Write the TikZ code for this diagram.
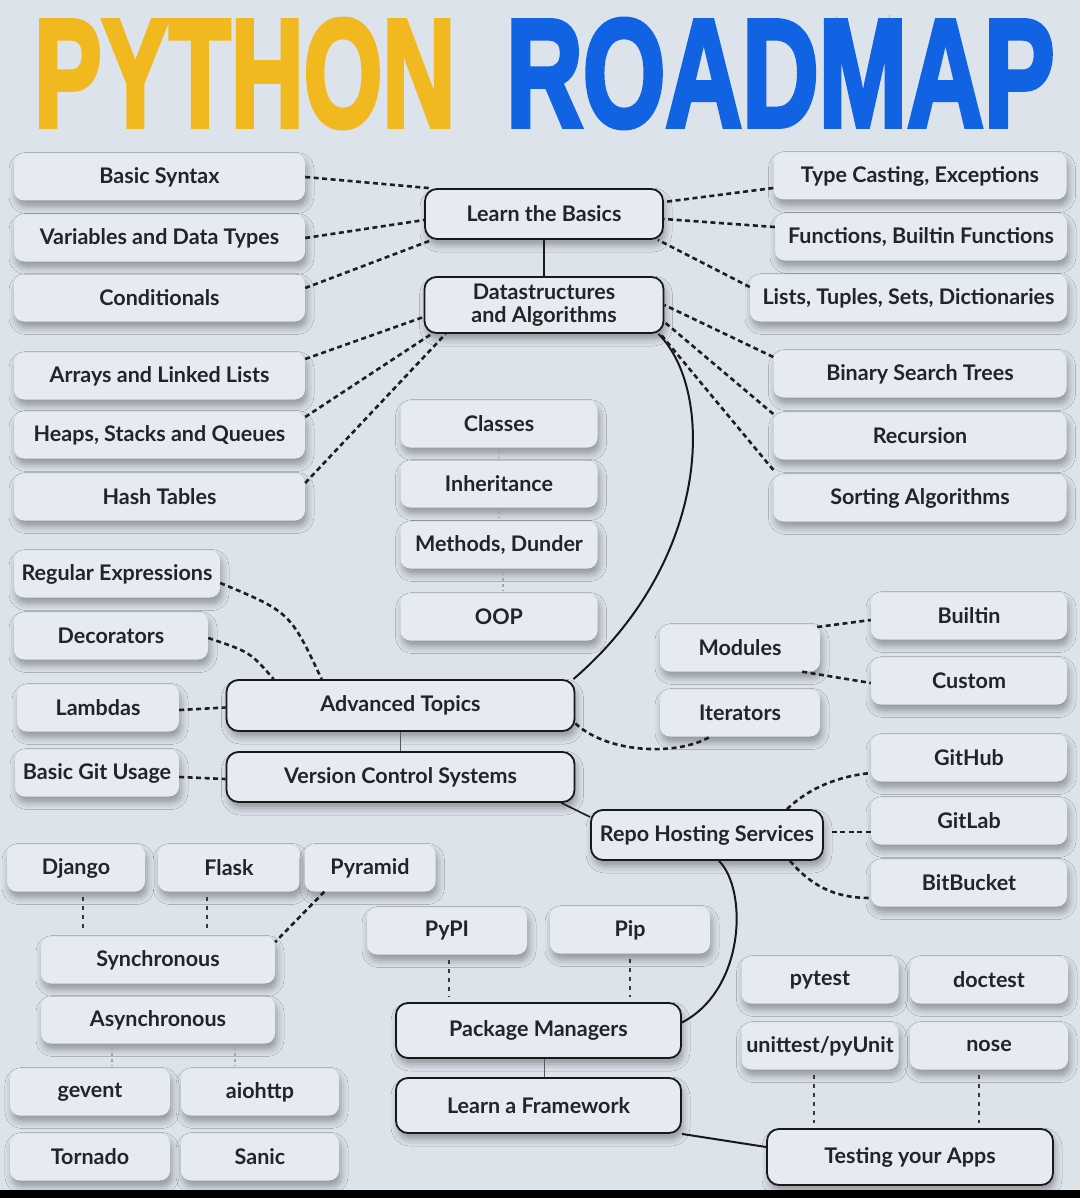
\documentclass[tikz,border=0pt]{standalone}
\usepackage{fontspec}
\setmainfont{Lato}
\newfontfamily\titlefont{Liberation Sans}[FakeBold=3.5]
\usetikzlibrary{shadows.blur}
\definecolor{bgc}{HTML}{DCE3EA}
\definecolor{boxc}{HTML}{E5EBF0}
\definecolor{txt}{HTML}{222528}
\definecolor{ylw}{HTML}{F1B81F}
\definecolor{blu}{HTML}{1263E4}
\newcommand{\nfont}{\fontsize{21.5}{22.5}\selectfont\bfseries}
\tikzset{
  soft/.style={rounded corners=10pt, fill=boxc, minimum height=47pt, inner sep=1pt,
    text=txt, font=\nfont,
    blur shadow={shadow xshift=2pt, shadow yshift=-6pt, shadow blur radius=7pt, shadow opacity=34}},
  mainbox/.style={rounded corners=12pt, draw=black!90, line width=1.8pt, fill=boxc,
    inner sep=1pt, text=txt, font=\nfont, align=center,
    blur shadow={shadow xshift=2pt, shadow yshift=-6pt, shadow blur radius=7pt, shadow opacity=34}},
  dsh/.style={draw=black!88, line width=2.6pt, dash pattern=on 5pt off 3.5pt},
  vdot/.style={draw=black!78, line width=2.4pt, dash pattern=on 4pt off 5pt, shorten <=5pt, shorten >=5pt},
  fdot/.style={draw=black!35, line width=1.6pt, dash pattern=on 3pt off 3pt, shorten <=3pt, shorten >=3pt},
  solidc/.style={draw=black!90, line width=2pt},
  thinc/.style={draw=black!65, line width=1.2pt},
}
\begin{document}
\begin{tikzpicture}[x=1pt,y=-1pt]
\useasboundingbox (0,0) rectangle (1080,1198);
\fill[bgc] (0,0) rectangle (1080,1198);

% title
\node[anchor=south west, inner sep=0] (t1) at (34,128) {\color{ylw}\resizebox{421pt}{107pt}{\titlefont\bfseries PYTHON}};
\node[anchor=south west, inner sep=0] (t2) at (506,128) {\color{blu}\resizebox{548pt}{107pt}{\titlefont\bfseries ROADMAP}};

% left column
\node[soft, minimum width=291pt] (bs) at (159.5,177) {Basic Syntax};
\node[soft, minimum width=291pt] (vdt) at (159.5,238) {Variables and Data Types};
\node[soft, minimum width=291pt] (cond) at (159.5,298) {Conditionals};
\node[soft, minimum width=291pt] (arr) at (159.5,376) {Arrays and Linked Lists};
\node[soft, minimum width=291pt] (heap) at (159.5,435) {Heaps, Stacks and Queues};
\node[soft, minimum width=291pt] (hash) at (159.5,497) {Hash Tables};

% right column
\node[soft, minimum width=293pt] (tc) at (920,176) {Type Casting, Exceptions};
\node[soft, minimum width=292pt] (fn) at (921,237) {Functions, Builtin Functions};
\node[soft, minimum width=317pt] (lts) at (908.5,298) {Lists, Tuples, Sets, Dictionaries};
\node[soft, minimum width=293pt] (bst) at (920,374) {Binary Search Trees};
\node[soft, minimum width=293pt] (rec) at (920,436) {Recursion};
\node[soft, minimum width=293pt] (sort) at (920,498) {Sorting Algorithms};

% main top
\node[mainbox, minimum width=238pt, minimum height=50pt] (ltb) at (544,214) {Learn the Basics};
\node[mainbox, minimum width=239pt, minimum height=56pt] (dsa) at (544,305) {Datastructures\\and Algorithms};

% middle OOP
\node[soft, minimum width=197pt] (cls) at (499,424) {Classes};
\node[soft, minimum width=197pt] (inh) at (499,484) {Inheritance};
\node[soft, minimum width=197pt] (meth) at (499,545) {Methods, Dunder};
\node[soft, minimum width=197pt] (oop) at (499,617) {OOP};

% left middle
\node[soft, minimum width=206pt] (regex) at (117,574) {Regular Expressions};
\node[soft, minimum width=194pt] (deco) at (111,636) {Decorators};
\node[soft, minimum width=162pt] (lamb) at (98,708) {Lambdas};
\node[soft, minimum width=164pt] (git) at (97,773) {Basic Git Usage};

\node[mainbox, minimum width=348pt, minimum height=51pt] (adv) at (400.5,705.5) {Advanced Topics};
\node[mainbox, minimum width=348pt, minimum height=50pt] (vcs) at (400.5,777) {Version Control Systems};

% right middle
\node[soft, minimum width=160pt] (mod) at (740,648) {Modules};
\node[soft, minimum width=160pt] (iter) at (740,713) {Iterators};
\node[soft, minimum width=196pt] (builtin) at (969,616) {Builtin};
\node[soft, minimum width=196pt] (custom) at (969,681) {Custom};
\node[soft, minimum width=196pt] (github) at (969,758) {GitHub};
\node[soft, minimum width=196pt] (gitlab) at (969,821) {GitLab};
\node[soft, minimum width=196pt] (bitbucket) at (969,883) {BitBucket};
\node[mainbox, minimum width=232pt, minimum height=50pt] (repo) at (707,835) {Repo Hosting Services};

% bottom left
\node[soft, minimum width=138pt] (django) at (76,868) {Django};
\node[soft, minimum width=142pt] (flask) at (229,868) {Flask};
\node[soft, minimum width=131pt] (pyramid) at (370,868) {Pyramid};
\node[soft, minimum width=234pt] (sync) at (158,960) {Synchronous};
\node[soft, minimum width=234pt] (async) at (158,1020) {Asynchronous};
\node[soft, minimum width=160pt] (gevent) at (90,1092) {gevent};
\node[soft, minimum width=158pt] (aiohttp) at (260,1092) {aiohttp};
\node[soft, minimum width=160pt] (tornado) at (90,1157) {Tornado};
\node[soft, minimum width=158pt] (sanic) at (260,1157) {Sanic};

% bottom middle
\node[soft, minimum width=160pt] (pypi) at (447,931) {PyPI};
\node[soft, minimum width=160pt] (pip) at (630,930) {Pip};
\node[mainbox, minimum width=285pt, minimum height=55pt] (pm) at (538.5,1030.5) {Package Managers};
\node[mainbox, minimum width=285pt, minimum height=55pt] (laf) at (538.5,1105.5) {Learn a Framework};

% bottom right
\node[soft, minimum width=157pt] (pytest) at (820,980) {pytest};
\node[soft, minimum width=158pt] (doctest) at (989,980) {doctest};
\node[soft, minimum width=157pt] (unittest) at (820,1046) {unittest/pyUnit};
\node[soft, minimum width=158pt] (nose) at (989,1046) {nose};
\node[mainbox, minimum width=286pt, minimum height=56pt] (testing) at (910,1157) {Testing your Apps};

% ---------- connectors ----------
% learn the basics
\draw[dsh] (bs.east) -- ([xshift=5pt]ltb.north west);
\draw[dsh] (vdt.east) -- ([yshift=-6pt]ltb.west);
\draw[dsh] ([yshift=10pt]cond.east) -- ([xshift=8pt]ltb.south west);
\draw[dsh] ([yshift=-12pt]tc.west) -- ([yshift=12pt]ltb.east);
\draw[dsh] ([yshift=10pt]fn.west) -- ([yshift=-5pt]ltb.east);
\draw[dsh] ([yshift=11pt]lts.west) -- ([xshift=-6pt]ltb.south east);
\draw[solidc, line width=1.6pt] (ltb.south) -- (dsa.north);
% data structures
\draw[dsh] ([yshift=17pt]arr.east) -- ([yshift=-12pt]dsa.west);
\draw[dsh] ([yshift=18pt]heap.east) -- ([xshift=8pt]dsa.south west);
\draw[dsh] ([yshift=14pt]hash.east) -- ([xshift=22pt]dsa.south west);
\draw[dsh] ([yshift=17pt]bst.west) -- (dsa.east);
\draw[dsh] ([yshift=22pt]rec.west) -- ([yshift=-17pt]dsa.east);
\draw[dsh] ([yshift=28pt]sort.west) -- ([xshift=-4pt]dsa.south east);
\draw[solidc] ([xshift=-6pt]dsa.south east) .. controls (715,390) and (712,560) .. ([xshift=-2pt]adv.north east);
% OOP chain
\draw[fdot] (cls.south) -- (inh.north);
\draw[fdot] (inh.south) -- (meth.north);
\draw[fdot] ([xshift=4pt]meth.south) -- ([xshift=4pt]oop.north);
% advanced
\draw[dsh] ([yshift=-9pt]regex.east) .. controls (290,612) .. ([xshift=96pt]adv.north west);
\draw[dsh] ([yshift=-2pt]deco.east) .. controls (250,652) .. ([xshift=48pt]adv.north west);
\draw[dsh] ([yshift=-2pt]lamb.east) -- ([yshift=-2pt]adv.west);
\draw[dsh] ([yshift=-4pt]git.east) -- ([yshift=-2pt]vcs.west);
\draw[thinc] (adv.south) -- (vcs.north);
\draw[dsh] ([yshift=-18pt]adv.east) .. controls (610,755) and (680,755) .. ([xshift=-30pt]iter.south);
\draw[dsh] ([xshift=-3pt,yshift=21pt]mod.east) -- ([yshift=-4pt]builtin.west);
\draw[dsh] ([xshift=-18pt]mod.south east) -- ([yshift=-2pt]custom.west);
% version control
\draw[solidc, line width=1.6pt] ([xshift=-14pt]vcs.south east) -- ([yshift=18pt]repo.west);
\draw[dsh] ([xshift=80pt]repo.north) .. controls (810,787) and (840,776) .. ([yshift=-15pt]github.west);
\draw[dsh] ([xshift=8pt,yshift=3pt]repo.east) -- ([yshift=-11pt]gitlab.west);
\draw[dsh] ([xshift=83pt]repo.south) .. controls (815,890) and (840,898) .. ([yshift=-15pt]bitbucket.west);
\draw[solidc] ([xshift=12pt]repo.south) .. controls (748,890) and (745,990) .. ([yshift=8pt]pm.east);
% package managers / framework
\draw[vdot] ([xshift=2pt]pypi.south) -- ([xshift=2pt]pypi.south |- pm.north);
\draw[vdot] (pip.south) -- (pip.south |- pm.north);
\draw[thinc] ([xshift=6pt]pm.south) -- ([xshift=6pt]laf.north);
\draw[solidc] (laf.south east) -- ([yshift=10pt]testing.west);
% frameworks
\draw[vdot] ([xshift=7pt]django.south) -- ([xshift=7pt]django.south |- sync.north);
\draw[vdot] ([xshift=-22pt]flask.south) -- ([xshift=-22pt]flask.south |- sync.north);
\draw[dsh] ([xshift=20pt]pyramid.south west) -- ([yshift=18pt]sync.east);
\draw[fdot] ([xshift=22pt]gevent.north |- async.south) -- ([xshift=22pt]gevent.north);
\draw[fdot] ([xshift=-25pt]aiohttp.north |- async.south) -- ([xshift=-25pt]aiohttp.north);
% testing
\draw[vdot] ([xshift=-6pt]unittest.south) -- ([xshift=-6pt]unittest.south |- testing.north);
\draw[vdot] ([xshift=-10pt]nose.south) -- ([xshift=-10pt]nose.south |- testing.north);

% bottom bar
\fill[black] (0,1190) rectangle (1080,1198);
\end{tikzpicture}
\end{document}
